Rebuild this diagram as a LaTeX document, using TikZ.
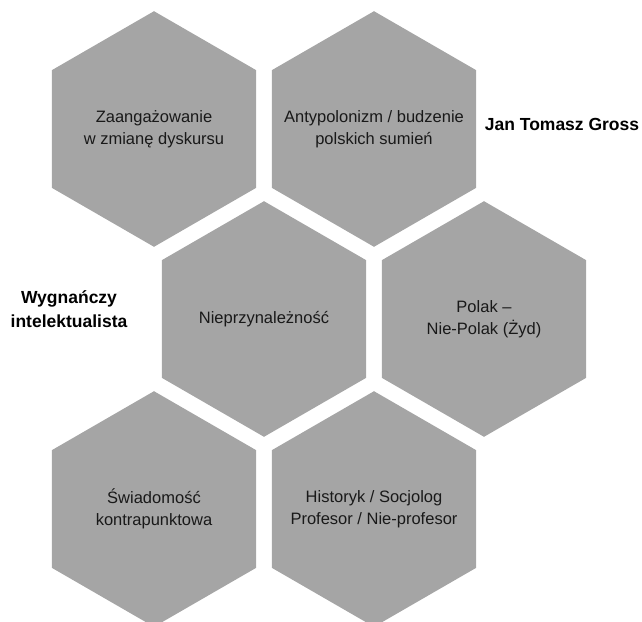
\documentclass[tikz,border=0pt]{standalone}
\usepackage{fontspec}
\setmainfont{Liberation Sans}
\usetikzlibrary{shapes.geometric}
\definecolor{hexgray}{RGB}{165,165,165}
\tikzset{
  cell/.style={regular polygon, regular polygon sides=6, shape border rotate=90, fill=hexgray, draw=none, minimum size=235.6pt, inner sep=0pt, outer sep=0pt},
  celltext/.style={align=center, inner sep=0pt, font=\fontsize{16.5}{21.5}\selectfont, text=black!90},
  tag/.style={align=center, inner sep=0pt, font=\fontsize{17.5}{24}\selectfont\bfseries}
}
\begin{document}
\begin{tikzpicture}[x=1pt,y=-1pt]
  \useasboundingbox (0,0) rectangle (642,621);
  \node[cell] (zaang) at (154,129) {};
  \node[cell] (anty) at (374,129) {};
  \node[cell] (nieprz) at (264,319) {};
  \node[cell] (polak) at (484,319) {};
  \node[cell] (swiad) at (154,509) {};
  \node[cell] (histor) at (374,509) {};
  \node[celltext] (zaang-t) at (zaang.center) {Zaangażowanie\\w zmianę dyskursu};
  \node[celltext] (anty-t) at (anty.center) {Antypolonizm / budzenie\\polskich sumień};
  \node[celltext] (nieprz-t) at (nieprz.center) {Nieprzynależność};
  \node[celltext] (polak-t) at (polak.center) {Polak –\\Nie-Polak (Żyd)};
  \node[celltext] (swiad-t) at (swiad.center) {Świadomość\\kontrapunktowa};
  \node[celltext] (histor-t) at (histor.center) {Historyk / Socjolog\\Profesor / Nie-profesor};
  \node[tag] (gross) at (562,124) {Jan Tomasz Gross};
  \node[tag] (wygn) at (69,309) {Wygnańczy\\intelektualista};
\end{tikzpicture}
\end{document}
